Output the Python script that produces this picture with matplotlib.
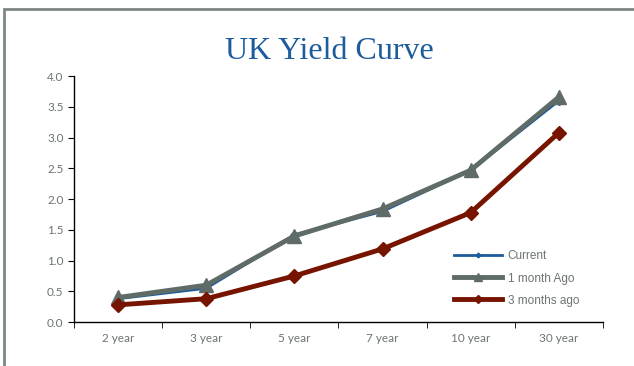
import matplotlib.pyplot as plt
from matplotlib.patches import Rectangle

maturities = ["2 year", "3 year", "5 year", "7 year", "10 year", "30 year"]
current = [0.38, 0.55, 1.42, 1.80, 2.47, 3.60]
month_ago = [0.40, 0.60, 1.40, 1.84, 2.47, 3.66]
three_months_ago = [0.28, 0.38, 0.75, 1.19, 1.78, 3.08]

tick_grey = "#6b7472"

fig = plt.figure(figsize=(6.34, 3.66), dpi=100)
ax = fig.add_axes([0.1167, 0.120, 0.8343, 0.672])

# outer frame, only top and left edges visible
fig.patches.append(Rectangle((4 / 634, -0.1), 1.2, 1 - 9 / 366 + 0.1,
                             transform=fig.transFigure, fill=False,
                             edgecolor="#7d8783", linewidth=2))

x = range(len(maturities))
ax.plot(x, month_ago, color="#5f6b67", lw=3.5, marker="^", ms=10,
        label="1 month Ago", zorder=3)
ax.plot(x, current, color="#1c5b9c", lw=2, marker="D", ms=4,
        label="Current", zorder=2)
ax.plot(x, three_months_ago, color="#761400", lw=3.5, marker="D", ms=7,
        label="3 months ago", zorder=3)

ax.set_xlim(-0.5, len(maturities) - 0.5)
ax.set_ylim(0, 4.0)
ax.set_yticks([i * 0.5 for i in range(9)])
ax.set_yticklabels([f"{i * 0.5:.1f}" for i in range(9)])
ax.set_xticks(x)
ax.set_xticklabels(maturities)
ax.set_xticks([i - 0.5 for i in range(len(maturities) + 1)], minor=True)
ax.tick_params(axis="x", which="major", length=0, pad=8)
ax.tick_params(axis="x", which="minor", length=4, direction="out")
ax.tick_params(axis="y", length=4, direction="out")
for lab in ax.get_xticklabels() + ax.get_yticklabels():
    lab.set_fontfamily("Lato")
    lab.set_fontsize(8.5)
    lab.set_color(tick_grey)
for side in ["top", "right"]:
    ax.spines[side].set_visible(False)
ax.spines["left"].set_linewidth(1)
ax.spines["bottom"].set_linewidth(1)

fig.text(0.52, 0.858, "UK Yield Curve", ha="center", va="center",
         family="Liberation Serif", fontsize=23, color="#1c5b9c")

handles, labels = ax.get_legend_handles_labels()
order = [1, 0, 2]
leg = ax.legend([handles[i] for i in order], [labels[i] for i in order],
                loc="lower right", bbox_to_anchor=(0.975, 0.02), frameon=False,
                prop={"family": "Liberation Sans", "size": 8.5},
                handlelength=4.0, labelspacing=0.85, handletextpad=0.5,
                markerscale=0.6)
for t in leg.get_texts():
    t.set_color(tick_grey)

fig.savefig("out.png", dpi=100)
